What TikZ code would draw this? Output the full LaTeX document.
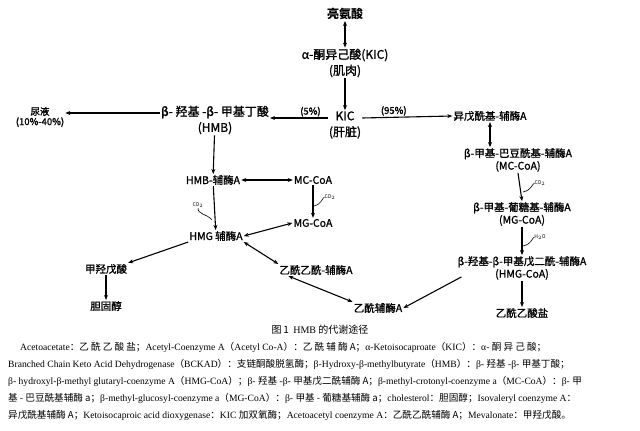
\documentclass[tikz,border=0pt]{standalone}
\usepackage{fontspec}
\setmainfont{Liberation Serif}
\newfontfamily\cjk{Noto Sans CJK SC}
\newfontfamily\cjkb[FakeBold=1.2]{Noto Sans CJK SC}
\newcommand\LP{{\cjk （}}
\newcommand\RP{{\cjk ）}}
\newcommand\CL{{\cjk ：}}
\newcommand\SC{{\cjk ；}}
\usetikzlibrary{arrows.meta}
\begin{document}
\begin{tikzpicture}[x=1pt,y=-1pt,
  n/.style={font=\cjkb\fontsize{10.5}{12.5}\selectfont,align=center,inner sep=1pt},
  a/.style={-{Stealth[length=5pt,width=4pt]},line width=1.1pt},
  d/.style={{Stealth[length=5pt,width=4pt]}-{Stealth[length=5pt,width=4pt]},line width=1.1pt},
  co/.style={font=\cjk\fontsize{5}{6}\selectfont,inner sep=0pt},
  lg/.style={anchor=west,font=\fontsize{9.6}{11}\selectfont,inner sep=0pt}]
\useasboundingbox (0,0) rectangle (640,431);
\fill[white] (0,0) rectangle (640,431);
\node[n,font=\cjk\bfseries\fontsize{12}{14}\selectfont] (leu) at (345,14) {亮氨酸};
\node[n,font=\cjkb\fontsize{12}{16}\selectfont] (kicm) at (345,63) {α-酮异己酸(KIC)\\(肌肉)};
\node[n,font=\cjkb\fontsize{12}{16}\selectfont] (kicl) at (345,125) {KIC\\(肝脏)};
\node[n,font=\cjkb\fontsize{12}{16}\selectfont] (hmb) at (215,120) {β- 羟基 -β- 甲基丁酸\\(HMB)};
\node[n,font=\cjkb\fontsize{9.5}{10}\selectfont] (uri) at (40,117) {尿液\\(10\%-40\%)};
\node[n] (iso) at (490,116) {异戊酰基-辅酶A};
\node[n] (mc) at (518,160) {β-甲基-巴豆酰基-辅酶A\\(MC-CoA)};
\node[n] (mg) at (522,214) {β-甲基-葡糖基-辅酶A\\(MG-CoA)};
\node[n] (hmg) at (522,268) {β-羟基-β-甲基戊二酰-辅酶A\\(HMG-CoA)};
\node[n] (aca) at (522,313) {乙酰乙酸盐};
\node[n] (hmbc) at (213,180) {HMB-辅酶A};
\node[n] (mc2) at (313,180) {MC-CoA};
\node[n] (mg2) at (313,223) {MG-CoA};
\node[n] (hmg2) at (216,236) {HMG 辅酶A};
\node[n] (mev) at (106,269) {甲羟戊酸};
\node[n] (cho) at (106,306) {胆固醇};
\node[n] (acac) at (316,270) {乙酰乙酰-辅酶A};
\node[n] (acoa) at (378,308) {乙酰辅酶A};
\draw[d] (leu) -- (kicm);
\draw[a] (kicm) -- (kicl);
\draw[a] (kicl.west|-330,118) -- node[above,n,font=\cjkb\fontsize{9.5}{10}\selectfont,pos=0.3]{(5\%)} (hmb.east|-330,118);
\draw[a] (kicl.east|-330,118) -- node[above,n,font=\cjkb\fontsize{9.5}{10}\selectfont,pos=0.35]{(95\%)} (iso.west|-330,116);
\draw[a] (hmb.west|-330,113) -- (uri.east|-330,113);
\draw[a] (hmb) -- (hmbc);
\draw[d] (hmbc) -- (mc2);
\draw[a] (mc2) -- (mg2);
\draw[a] (hmbc) -- (hmg2);
\draw[d] (hmg2.east) -- (mg2.west);
\draw[a] (hmg2.south west) -- (mev.north east);
\draw[a] (mev) -- (cho);
\draw[d] (hmg2.south east) -- (acac.north west);
\draw[d] (acac.south west) ++(10,0) -- (acoa.north west);
\draw[d] (iso) -- (mc.north-|iso);
\draw[a] (mc.south) -- (mg.north);
\draw[a] (mg.south) -- (hmg.north);
\draw[a] (hmg.south) -- (aca.north);
\draw[a] (hmg.south west) ++(5,-4) -- (acoa.east);
\node[co] (c1) at (198,205) {CO$_2$};
\draw[line width=0.6pt] (c1.south) .. controls (198,215) and (206,213) .. (212,220);
\node[co] (c2) at (330,197) {CO$_2$};
\draw[line width=0.6pt] (c2.west) .. controls (322,198) and (322,204) .. (314,206);
\node[co] (c3) at (540,183) {CO$_2$};
\draw[line width=0.6pt] (c3.west) .. controls (532,184) and (532,190) .. (523,192);
\node[co] (c4) at (540,237) {H$_2$O};
\draw[line width=0.6pt] (c4.west) .. controls (532,238) and (532,244) .. (523,246);
\node[font=\cjk\fontsize{10}{12}\selectfont] (cap) at (320,330) {图\,1 \ {\rmfamily HMB} 的代谢途径};
\node[lg] (l1) at (20,347) {Acetoacetate\CL{\cjk 乙 酰 乙 酸 盐}\SC Acetyl-Coenzyme A\LP Acetyl Co-A\RP\CL{\cjk 乙 酰 辅 酶 A}\SC α-Ketoisocaproate\LP KIC\RP\CL α- {\cjk 酮 异 己 酸}\SC};
\node[lg] (l2) at (8,364) {Branched Chain Keto Acid Dehydrogenase\LP BCKAD\RP\CL{\cjk 支链酮酸脱氢酶}\SC β-Hydroxy-β-methylbutyrate\LP HMB\RP\CL β- {\cjk 羟基} -β- {\cjk 甲基丁酸}\SC};
\node[lg] (l3) at (8,381) {β- hydroxyl-β-methyl glutaryl-coenzyme A\LP HMG-CoA\RP\SC β- {\cjk 羟基} -β- {\cjk 甲基戊二酰辅酶 A}\SC β-methyl-crotonyl-coenzyme a\LP MC-CoA\RP\CL β- {\cjk 甲}};
\node[lg] (l4) at (8,398) {{\cjk 基 - 巴豆酰基辅酶 a}\SC β-methyl-glucosyl-coenzyme a\LP MG-CoA\RP\CL β- {\cjk 甲基 - 葡糖基辅酶 a}\SC cholesterol\CL{\cjk 胆固醇}\SC Isovaleryl coenzyme A\CL};
\node[lg] (l5) at (8,415) {{\cjk 异戊酰基辅酶 A}\SC Ketoisocaproic acid dioxygenase\CL KIC {\cjk 加双氧酶}\SC Acetoacetyl coenzyme A\CL{\cjk 乙酰乙酰辅酶 A}\SC Mevalonate\CL{\cjk 甲羟戊酸。}};
\end{tikzpicture}
\end{document}
